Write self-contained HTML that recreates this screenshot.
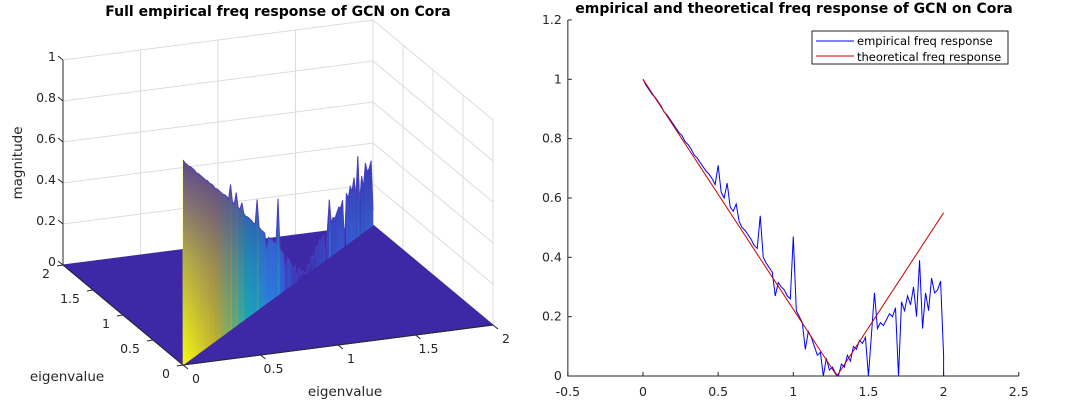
<!DOCTYPE html>
<html><head><meta charset="utf-8"><style>
body{margin:0;background:#fff;}
svg{display:block;font-family:"DejaVu Sans","Liberation Sans",sans-serif;}
</style></head><body>
<svg width="1077" height="417" viewBox="0 0 1077 417">
<defs>
<linearGradient id="wallshade" x1="0" y1="1" x2="0" y2="0">
<stop offset="0" stop-color="#3e26a8" stop-opacity="0"/>
<stop offset="0.5" stop-color="#3e26a8" stop-opacity="0.35"/>
<stop offset="1" stop-color="#3e26a8" stop-opacity="0.85"/>
</linearGradient>
</defs>
<g id="left"></g>
<g id="right"></g>
</svg>
<script>
const lam = [];
for (let i = 0; i <= 100; i++) lam.push(i * 0.02);
const empirical = [1.0,.98,.965,.95,.94,.925,.91,.89,.88,.865,.85,.835,.82,.81,.79,.78,.765,.745,.735,.72,.705,.69,.68,.665,.645,.71,.62,.60,.65,.57,.555,.58,.52,.50,.49,.475,.46,.44,.43,.54,.40,.38,.365,.35,.27,.315,.30,.29,.27,.26,.47,.22,.20,.18,.09,.15,.13,.10,.07,.08,0,.06,.02,.03,.01,0,.04,.03,.07,.05,.10,.09,.12,.11,.13,0,.14,.28,.16,.18,.17,.19,.21,.2,.23,0,.25,.22,.27,.24,.30,.20,.39,.16,.28,.22,.33,.28,.29,.32,.07];
const theoryX = [0, 1.29, 2];
const theoryY = [1, 0, 0.55];
const xTicks = [-0.5,0,0.5,1,1.5,2,2.5];
const yTicks = [0,0.2,0.4,0.6,0.8,1,1.2];
const zTicks3 = [0,0.2,0.4,0.6,0.8,1];
const eTicks3 = [0,0.5,1,1.5,2];

const NS = "http://www.w3.org/2000/svg";
function mk(tag, attrs, parent, text){const e=document.createElementNS(NS,tag);for(const k in attrs)e.setAttribute(k,attrs[k]);if(text!==undefined)e.textContent=text;parent.appendChild(e);return e;}

// ---------- Right plot ----------
const RG = document.getElementById('right');
const X = v => 643 + v * 150.3;
const Y = v => 376 - v * 296.7;
const rt = mk('text',{x:794,y:13,'text-anchor':'middle','font-size':14,'font-weight':'bold',fill:'#000'},RG,'empirical and theoretical freq response of GCN on Cora');


const axr = mk('path',{d:`M${X(-0.5)},${Y(1.2)} V${Y(0)} H${X(2.5)}`,stroke:'#262626','stroke-width':1,fill:'none'},RG);


xTicks.forEach(v=>{
  let l=mk('line',{x1:X(v),x2:X(v),y1:Y(0),y2:Y(0)-4,stroke:'#262626'},RG);
  
  
  let tx=mk('text',{x:X(v),y:396,'text-anchor':'middle','font-size':12.5,fill:'#262626'},RG,String(v));
  
  
});
yTicks.forEach(v=>{
  let l=mk('line',{x1:X(-0.5),x2:X(-0.5)+4,y1:Y(v),y2:Y(v),stroke:'#262626'},RG);
  
  
  let tx=mk('text',{x:X(-0.5)-6,y:Y(v)+4,'text-anchor':'end','font-size':12.5,fill:'#262626'},RG,String(v));
  
  
});
const ep = mk('polyline',{points:lam.map((x,i)=>X(x)+','+Y(empirical[i])).join(' ')+' '+X(2)+','+Y(0),stroke:'#0000ff','stroke-width':1,fill:'none'},RG);


const tp = mk('polyline',{points:theoryX.map((x,i)=>X(x)+','+Y(theoryY[i])).join(' '),stroke:'#cc0000','stroke-width':1,fill:'none'},RG);


const lg = mk('g',{},RG);


mk('rect',{x:812,y:31,width:196,height:33,fill:'#fff',stroke:'#262626'},lg);
mk('line',{x1:816,x2:854,y1:41,y2:41,stroke:'#0000ff'},lg);
mk('line',{x1:816,x2:854,y1:56,y2:56,stroke:'#cc0000'},lg);
const l1=mk('text',{x:857,y:45,'font-size':11.5,fill:'#000'},lg,'empirical freq response');


const l2=mk('text',{x:857,y:61,'font-size':11.5,fill:'#000'},lg,'theoretical freq response');



// ---------- Left 3D plot ----------
const LG = document.getElementById('left');
const O=[183,365], EX=[155,-20], EY=[-60,-50], EZ=-205;
const P=(x,y,z)=>[O[0]+x*EX[0]+y*EY[0], O[1]+x*EX[1]+y*EY[1]+z*EZ];
const ps=a=>a.map(p=>p[0].toFixed(1)+','+p[1].toFixed(1)).join(' ');
const lt = mk('text',{x:278,y:16,'text-anchor':'middle','font-size':14,'font-weight':'bold',fill:'#000'},LG,'Full empirical freq response of GCN on Cora');


const gridG = mk('g',{stroke:'#dcdcdc','stroke-width':1,fill:'none'},LG);


zTicks3.forEach(z=>{
  mk('polyline',{points:ps([P(0,2,z),P(2,2,z),P(2,0,z)])},gridG);
});
eTicks3.forEach(e=>{
  mk('line',{x1:P(e,2,0)[0],y1:P(e,2,0)[1],x2:P(e,2,1)[0],y2:P(e,2,1)[1]},gridG);
  mk('line',{x1:P(2,e,0)[0],y1:P(2,e,0)[1],x2:P(2,e,1)[0],y2:P(2,e,1)[1]},gridG);
});
const floorP = mk('polygon',{points:ps([P(0,0,0),P(2,0,0),P(2,2,0),P(0,2,0)]),fill:'#3d29a6',stroke:'#3d29a6'},LG);


const parula = v=>{
  const s=[[0,[62,38,168]],[0.25,[46,135,247]],[0.5,[19,190,184]],[0.75,[200,188,40]],[1,[249,251,14]]];
  v=Math.max(0,Math.min(1,v));
  for(let i=1;i<s.length;i++){if(v<=s[i][0]){const a=s[i-1],b=s[i],f=(v-a[0])/(b[0]-a[0]);return 'rgb('+a[1].map((c,k)=>Math.round(c+(b[1][k]-c)*f)).join(',')+')';}}
  return 'rgb(249,251,14)';
};
const wallG = mk('g',{},LG);


for(let i=0;i<lam.length-1;i++){
  const a=lam[i], b=lam[i+1];
  let s=mk('polygon',{points:ps([P(a,a,0),P(b,b,0),P(b,b,empirical[i+1]),P(a,a,empirical[i])]),fill:parula(empirical[i]),stroke:parula(empirical[i]),'stroke-width':0.6},wallG);
  
  
}
const topPts=[P(0,0,0)].concat(lam.map((x,i)=>P(x,x,empirical[i]))).concat([P(2,2,0)]);
mk('polygon',{points:ps(topPts),fill:'url(#wallshade)'},wallG);
mk('polyline',{points:ps(lam.map((x,i)=>P(x,x,empirical[i]))),fill:'none',stroke:'#4a3ec0','stroke-width':1},wallG);
const axg = mk('g',{stroke:'#262626','stroke-width':1,fill:'none'},LG);


mk('line',{x1:P(0,2,0)[0],y1:P(0,2,0)[1],x2:P(0,2,1)[0],y2:P(0,2,1)[1]},axg);
mk('polyline',{points:ps([P(0,2,0),P(0,0,0),P(2,0,0)])},axg);
zTicks3.forEach(z=>{
  const p=P(0,2,z);
  mk('line',{x1:p[0],y1:p[1],x2:p[0]-5,y2:p[1]-4},axg);
  let tx=mk('text',{x:p[0]-7,y:p[1]+1,'text-anchor':'end','font-size':12.5,fill:'#262626',stroke:'none'},LG,String(z));
  
  
});
eTicks3.forEach(e=>{
  const p=P(e,0,0);
  mk('line',{x1:p[0],y1:p[1],x2:p[0]+5,y2:p[1]+4},axg);
  let tx=mk('text',{x:p[0]+13,y:p[1]+18,'text-anchor':'middle','font-size':12.5,fill:'#262626',stroke:'none'},LG,String(e));
  
  
  const q=P(0,e,0);
  mk('line',{x1:q[0],y1:q[1],x2:q[0]-6,y2:q[1]+1},axg);
  let ty=mk('text',{x:q[0]-13,y:q[1]+13,'text-anchor':'end','font-size':12.5,fill:'#262626',stroke:'none'},LG,String(e));
  
  
});
const a1=mk('text',{x:67,y:381,'text-anchor':'middle','font-size':13.5,fill:'#262626'},LG,'eigenvalue');


const a2=mk('text',{x:345,y:396,'text-anchor':'middle','font-size':13.5,fill:'#262626'},LG,'eigenvalue');


const a3=mk('text',{x:0,y:0,'text-anchor':'middle','font-size':13.5,fill:'#262626',transform:'translate(22,163) rotate(-90)'},LG,'magnitude');


</script>
</body></html>
